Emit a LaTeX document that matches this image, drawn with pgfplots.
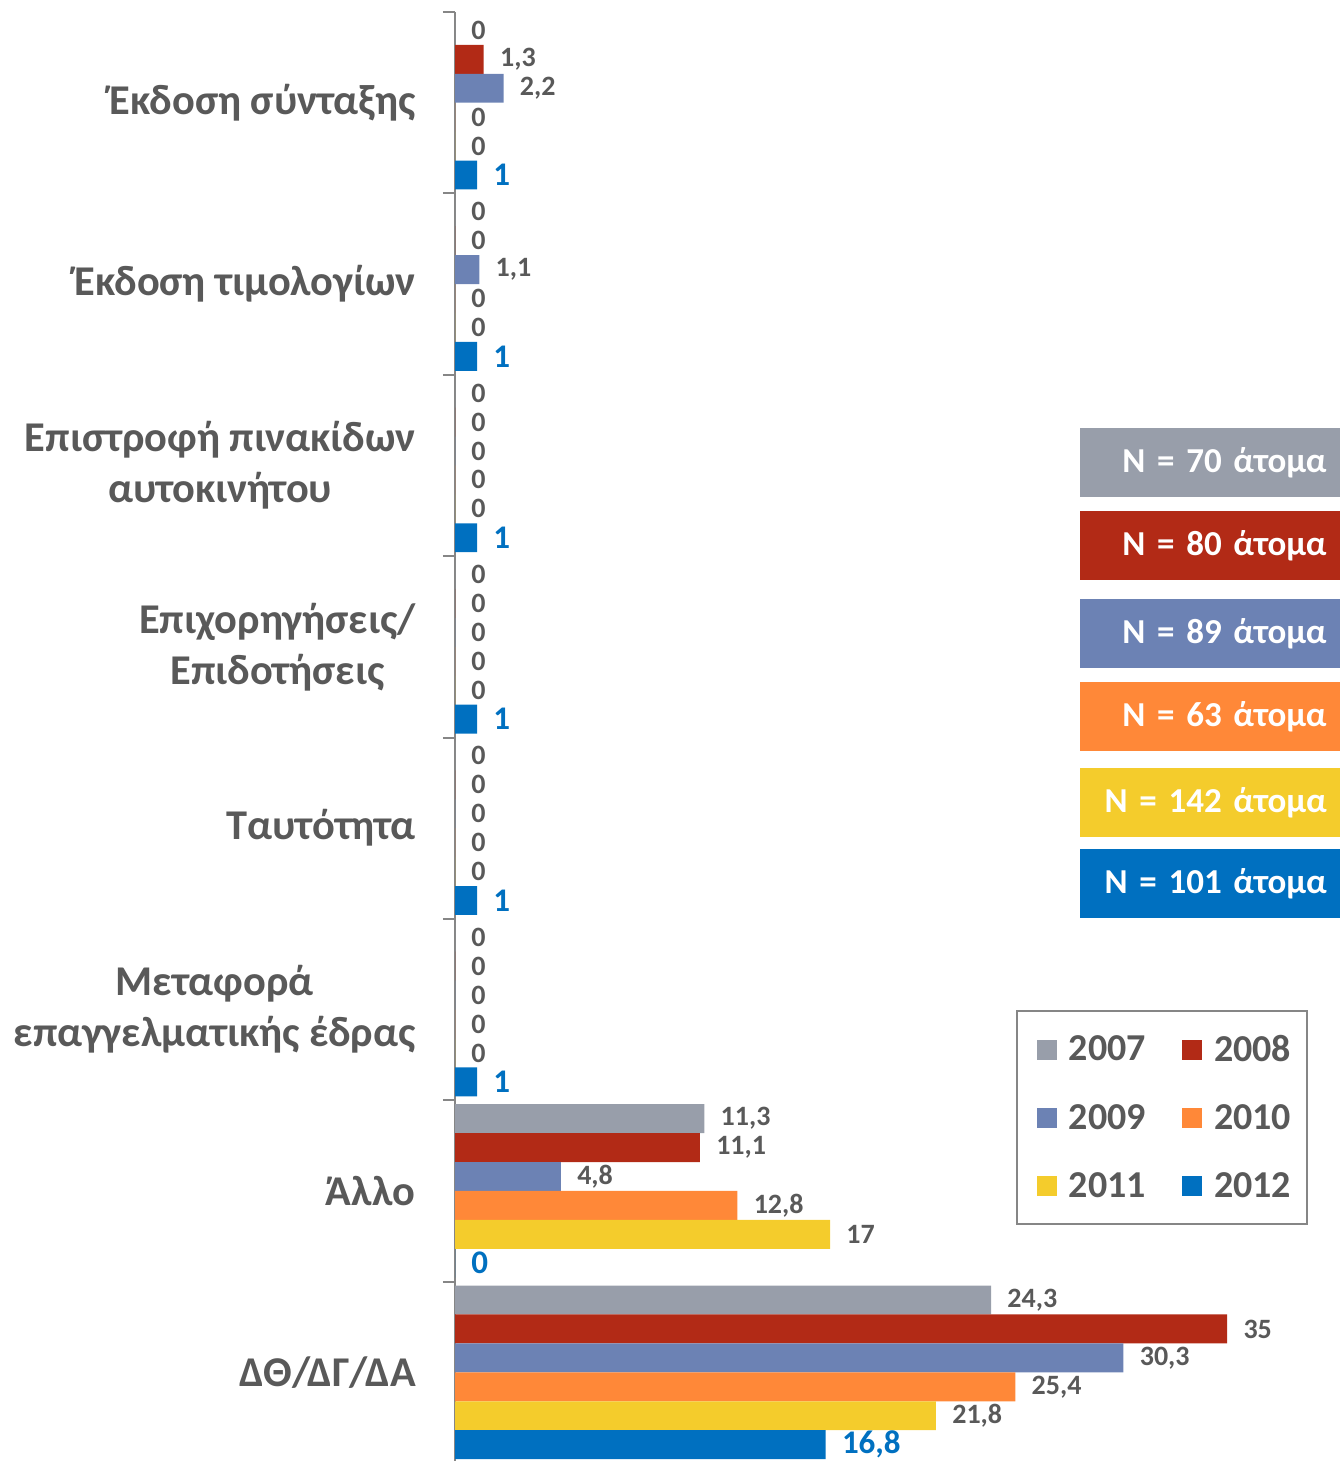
\documentclass[border=0pt]{standalone}
\usepackage{fontspec}
\setmainfont{Carlito}
\usepackage{pgfplots}
\pgfplotsset{compat=1.18}
\definecolor{c07}{HTML}{989EAA}
\definecolor{c08}{HTML}{B22A16}
\definecolor{c09}{HTML}{6C82B4}
\definecolor{c10}{HTML}{FF8838}
\definecolor{c11}{HTML}{F4CC2C}
\definecolor{c12}{HTML}{0070C0}
\definecolor{textgray}{HTML}{595959}
\definecolor{axisgray}{HTML}{868686}
\begin{document}
\begin{tikzpicture}
\begin{axis}[
  scale only axis, width=441.2pt, height=725.5pt,
  xbar, bar width=0.1595,
  xmin=0, xmax=40, ymin=-0.5, ymax=7.5, y dir=reverse, enlargelimits=false,
  axis x line=none, axis y line*=left,
  y axis line style={draw=axisgray, line width=1pt, -},
  ytick={0,1,2,3,4,5,6,7},
  yticklabels={Έκδοση σύνταξης, Έκδοση τιμολογίων, {Επιστροφή πινακίδων\\αυτοκινήτου}, {Επιχορηγήσεις/\\Επιδοτήσεις}, Ταυτότητα, {Μεταφορά\\επαγγελματικής έδρας}, Άλλο, ΔΘ/ΔΓ/ΔΑ},
  major tick length=0pt,
  minor ytick={-0.5,0.5,1.5,2.5,3.5,4.5,5.5,6.5,7.5},
  minor tick length=6pt, tick align=outside,
  tick style={axisgray, line width=1pt},
  yticklabel style={font=\fontsize{21.2}{25.5}\selectfont\bfseries, text=textgray, align=center, inner sep=0pt, xshift=-19.5pt},
  /pgf/number format/assume math mode=true,
  point meta=x,
  nodes near coords={\pgfmathprintnumber[fixed,precision=1,use comma,assume math mode=true]{\pgfplotspointmeta}},
  every node near coord/.append style={font=\fontsize{14}{16}\selectfont\bfseries, text=textgray, inner sep=1pt, xshift=7pt},
  legend columns=2,
  legend style={at={(0.9667,0.3122)}, anchor=north east, draw=axisgray, line width=1pt, fill=white,
    font=\fontsize{19}{23}\selectfont\bfseries, text=textgray, inner xsep=6pt, inner ysep=10pt,
    row sep=16pt, /tikz/every even column/.append style={column sep=12pt},
    /tikz/every odd column/.append style={column sep=4pt}},
  legend cell align=left,
  legend image code/.code={\path (0pt,0pt); \fill[#1,draw=none] (4pt,-5pt) rectangle (14pt,5pt);},
]
\addplot[fill=c07, draw=none, bar shift=-0.39875] coordinates {(0,0) (0,1) (0,2) (0,3) (0,4) (0,5) (11.3,6) (24.3,7)};
\addplot[fill=c08, draw=none, bar shift=-0.23925] coordinates {(1.3,0) (0,1) (0,2) (0,3) (0,4) (0,5) (11.1,6) (35,7)};
\addplot[fill=c09, draw=none, bar shift=-0.07975] coordinates {(2.2,0) (1.1,1) (0,2) (0,3) (0,4) (0,5) (4.8,6) (30.3,7)};
\addplot[fill=c10, draw=none, bar shift=0.07975] coordinates {(0,0) (0,1) (0,2) (0,3) (0,4) (0,5) (12.8,6) (25.4,7)};
\addplot[fill=c11, draw=none, bar shift=0.23925] coordinates {(0,0) (0,1) (0,2) (0,3) (0,4) (0,5) (17,6) (21.8,7)};
\addplot[fill=c12, draw=none, bar shift=0.39875, every node near coord/.append style={font=\fontsize{16.5}{18}\selectfont\bfseries, text=c12}] coordinates {(1,0) (1,1) (1,2) (1,3) (1,4) (1,5) (0,6) (16.8,7)};
\legend{2007,2008,2009,2010,2011,2012}
\coordinate (BL) at (axis description cs:0,0);
\coordinate (TR) at (axis description cs:1,1);
\end{axis}
\tikzset{nbox/.style={anchor=north east, minimum height=34.5pt, text width=117pt, inner xsep=6.5pt, inner ysep=0pt, align=right, font=\fontsize{17.5}{20}\selectfont\bfseries, text=white}}
\node[nbox, fill=c07] at ([xshift=1.3pt, yshift=-208pt]TR) {N = 70 άτομα};
\node[nbox, fill=c08] at ([xshift=1.3pt, yshift=-249.5pt]TR) {N = 80 άτομα};
\node[nbox, fill=c09] at ([xshift=1.3pt, yshift=-293.5pt]TR) {N = 89 άτομα};
\node[nbox, fill=c10] at ([xshift=1.3pt, yshift=-335pt]TR) {N = 63 άτομα};
\node[nbox, fill=c11] at ([xshift=1.3pt, yshift=-378pt]TR) {N = 142 άτομα};
\node[nbox, fill=c12] at ([xshift=1.3pt, yshift=-418.5pt]TR) {N = 101 άτομα};
\pgfresetboundingbox
\path ([xshift=-227.5pt, yshift=1pt]BL) rectangle ([xshift=1.3pt, yshift=6pt]TR);
\end{tikzpicture}
\end{document}
